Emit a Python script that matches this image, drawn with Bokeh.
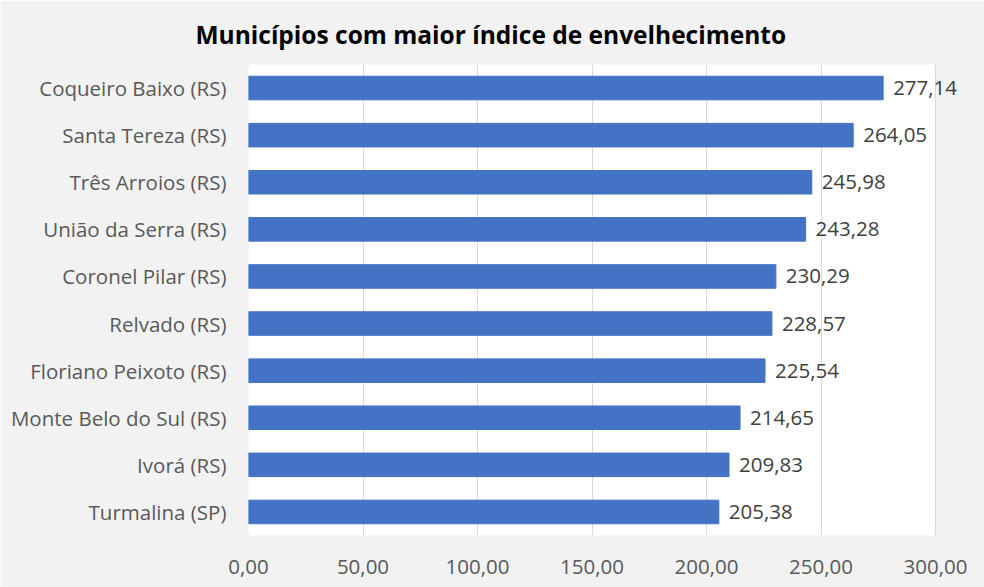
from bokeh.core.properties import value
from bokeh.embed import file_html
from bokeh.models import BoxAnnotation, ColumnDataSource, CustomJSTickFormatter, FixedTicker
from bokeh.plotting import figure
from bokeh.resources import INLINE

# dados (de cima para baixo)
municipios = [
    "Coqueiro Baixo (RS)",
    "Santa Tereza (RS)",
    "Três Arroios (RS)",
    "União da Serra (RS)",
    "Coronel Pilar (RS)",
    "Relvado (RS)",
    "Floriano Peixoto (RS)",
    "Monte Belo do Sul (RS)",
    "Ivorá (RS)",
    "Turmalina (SP)",
]
indices = [277.14, 264.05, 245.98, 243.28, 230.29, 228.57, 225.54, 214.65, 209.83, 205.38]
ticks = [0, 50, 100, 150, 200, 250, 300]

FONT = "Open Sans"
SIZE = "20.5px"
BG = "#f2f2f2"

src = ColumnDataSource(dict(
    cat=municipios,
    val=indices,
    lbl=[f"{v:.2f}".replace(".", ",") for v in indices],
))

# frame runs to the right edge so the value labels are not clipped;
# the white plot area (0..300) is a box drawn under the grid
x_end = ticks[-1] * (984 - 248) / (935 - 248)

p = figure(
    width=984,
    height=587,
    y_range=list(reversed(municipios)),
    x_range=(0, x_end),
    output_backend="svg",
    toolbar_location=None,
    tools="",
    title="Municípios com maior índice de envelhecimento",
    background_fill_color=BG,
    border_fill_color=BG,
    min_border_left=248,
    min_border_right=0,
    min_border_top=64,
    min_border_bottom=52,
)
p.outline_line_color = None

p.add_layout(BoxAnnotation(left=ticks[0], right=ticks[-1], fill_color="white",
                           fill_alpha=1, line_color=None, level="image"))

p.title.align = "left"
p.title.offset = -53
p.title.standoff = 28
p.title.text_font = FONT
p.title.text_font_size = "24.5px"
p.title.text_font_style = "bold"
p.title.text_color = "black"

p.hbar(y="cat", right="val", height=0.5, source=src, color="#4472C4")
p.text(x="val", y="cat", text="lbl", source=src, x_offset=10,
       text_baseline="middle", text_align="left",
       text_font=value(FONT), text_font_size=SIZE, text_color="#404040")

p.xaxis.ticker = FixedTicker(ticks=ticks)
p.xaxis.formatter = CustomJSTickFormatter(code="return tick.toFixed(2).replace('.', ',');")
p.xaxis.axis_line_color = None
p.xaxis.major_tick_line_color = None
p.xaxis.minor_tick_line_color = None
p.xaxis.major_label_standoff = 18
p.xaxis.major_label_text_font = FONT
p.xaxis.major_label_text_font_size = SIZE
p.xaxis.major_label_text_color = "#595959"

p.yaxis.axis_line_color = None
p.yaxis.major_tick_line_color = None
p.yaxis.major_label_standoff = 16
p.yaxis.major_label_text_font = FONT
p.yaxis.major_label_text_font_size = SIZE
p.yaxis.major_label_text_color = "#595959"

p.xgrid.grid_line_color = "#d9d9d9"
p.ygrid.grid_line_color = None

open("out.html", "w").write(file_html(p, INLINE))
